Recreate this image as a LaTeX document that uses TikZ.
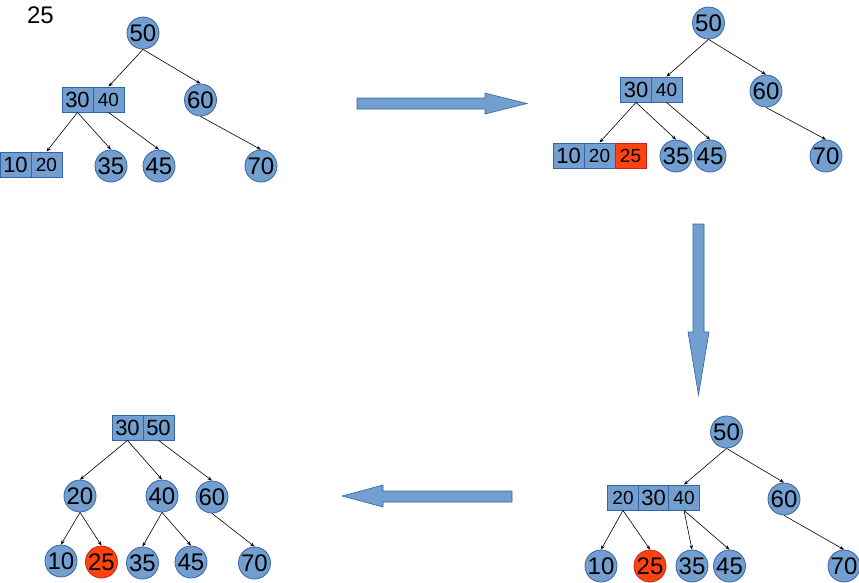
\documentclass[tikz,border=0pt]{standalone}
\usepackage{fontspec}
\setmainfont{Liberation Sans}
\usetikzlibrary{arrows.meta}
\definecolor{nodeblue}{HTML}{729FCF}
\definecolor{nodeedge}{HTML}{3465A4}
\definecolor{hotred}{HTML}{FF420E}
\definecolor{hotedge}{HTML}{C9211E}
\tikzset{
 circ/.style={circle, fill=nodeblue, draw=nodeedge, line width=0.8pt, minimum size=32pt, inner sep=0pt, font=\fontsize{24}{28}\selectfont},
 cell/.style={rectangle, fill=nodeblue, draw=nodeedge, line width=0.8pt, minimum width=31pt, minimum height=25pt, inner sep=0pt, font=\fontsize{22}{26}\selectfont},
 cellsm/.style={cell, font=\fontsize{19}{22}\selectfont},
 hot/.style={fill=hotred, draw=hotedge},
 edge/.style={line width=0.6pt, -{Stealth[length=4.5pt,width=3.5pt]}},
 blockarrow/.style={fill=nodeblue, draw=nodeedge, line width=0.6pt}
}
\begin{document}
\begin{tikzpicture}[x=1pt,y=-1pt]
\useasboundingbox (0,0) rectangle (859,582);
% ---------- top-left ----------
\node[font=\fontsize{24}{28}\selectfont] (lbl) at (40.5,15) {25};
\node[circ] (a50) at (143,33) {50};
\node[cell] (a30) at (77.5,99.5) {30};
\node[cellsm] (a40) at (108.5,99.5) {40};
\node[circ] (a60) at (200.5,100) {60};
\node[cell] (a10) at (15.5,164.5) {10};
\node[cellsm] (a20) at (46.5,164.5) {20};
\node[circ] (a35) at (111,166) {35};
\node[circ] (a45) at (159,166) {45};
\node[circ] (a70) at (261,166) {70};
\draw[edge] (a50.south) -- (a40.north);
\draw[edge] (a50.south) -- (a60.north);
\draw[edge] (a30.south) -- (a20.north);
\draw[edge] (a30.south) -- (a35.north);
\draw[edge] (a40.south) -- (a45.north);
\draw[edge] (a60.south) -- (a70.north);
% ---------- top-right ----------
\node[circ] (b50) at (708.5,23) {50};
\node[cell] (b30) at (636,89.5) {30};
\node[cellsm] (b40) at (666.5,89.5) {40};
\node[circ] (b60) at (766,91) {60};
\node[cell] (b10) at (568.5,155.5) {10};
\node[cellsm] (b20) at (599.5,155.5) {20};
\node[cellsm,hot] (b25) at (630.5,155.5) {25};
\node[circ] (b35) at (676,156) {35};
\node[circ] (b45) at (710,156) {45};
\node[circ] (b70) at (826,156) {70};
\draw[edge] (b50.south) -- (b40.north);
\draw[edge] (b50.south) -- (b60.north);
\draw[edge] (b30.south) -- (b20.north);
\draw[edge] (b30.south) -- (b35.north);
\draw[edge] (b40.south) -- (b45.north);
\draw[edge] (b60.south) -- (b70.north);
% ---------- bottom-right ----------
\node[circ] (c50) at (726.5,432) {50};
\node[cellsm] (c20) at (623,497.5) {20};
\node[cell] (c30) at (653.5,497.5) {30};
\node[cellsm] (c40) at (684,497.5) {40};
\node[circ] (c60) at (784,499) {60};
\node[circ] (c10) at (601,566) {10};
\node[circ,hot] (c25) at (650,566) {25};
\node[circ] (c35) at (692,566) {35};
\node[circ] (c45) at (729.5,566) {45};
\node[circ] (c70) at (844,566) {70};
\draw[edge] (c50.south) -- (c40.north);
\draw[edge] (c50.south) -- (c60.north);
\draw[edge] (c20.south) -- (c10.north);
\draw[edge] (c20.south) -- (c25.north);
\draw[edge] (c40.south) -- (c35.north);
\draw[edge] (c40.south) -- (c45.north);
\draw[edge] (c60.south) -- (c70.north);
% ---------- bottom-left ----------
\node[cell] (d30) at (127.5,427.5) {30};
\node[cell] (d50) at (158.5,427.5) {50};
\node[circ] (d20) at (80,496) {20};
\node[circ] (d40) at (162,496) {40};
\node[circ] (d60) at (212,497) {60};
\node[circ] (d10) at (61,561) {10};
\node[circ,hot] (d25) at (101.5,562) {25};
\node[circ] (d35) at (142.5,563) {35};
\node[circ] (d45) at (191,562) {45};
\node[circ] (d70) at (254.5,563) {70};
\draw[edge] (d30.south) -- (d20.north);
\draw[edge] (d30.south) -- (d40.north);
\draw[edge] (d50.south) -- (d60.north);
\draw[edge] (d20.south) -- (d10.north);
\draw[edge] (d20.south) -- (d25.north);
\draw[edge] (d40.south) -- (d35.north);
\draw[edge] (d40.south) -- (d45.north);
\draw[edge] (d60.south) -- (d70.north);
% ---------- block arrows ----------
\draw[blockarrow] (357,98) -- (485,98) -- (485,93) -- (527,103.5) -- (485,114) -- (485,109) -- (357,109) -- cycle;
\draw[blockarrow] (693,224) -- (704,224) -- (704,332) -- (709,332) -- (698.5,395) -- (688,332) -- (693,332) -- cycle;
\draw[blockarrow] (512,491) -- (383,491) -- (383,485) -- (342,496) -- (383,507) -- (383,502) -- (512,502) -- cycle;
\end{tikzpicture}
\end{document}
